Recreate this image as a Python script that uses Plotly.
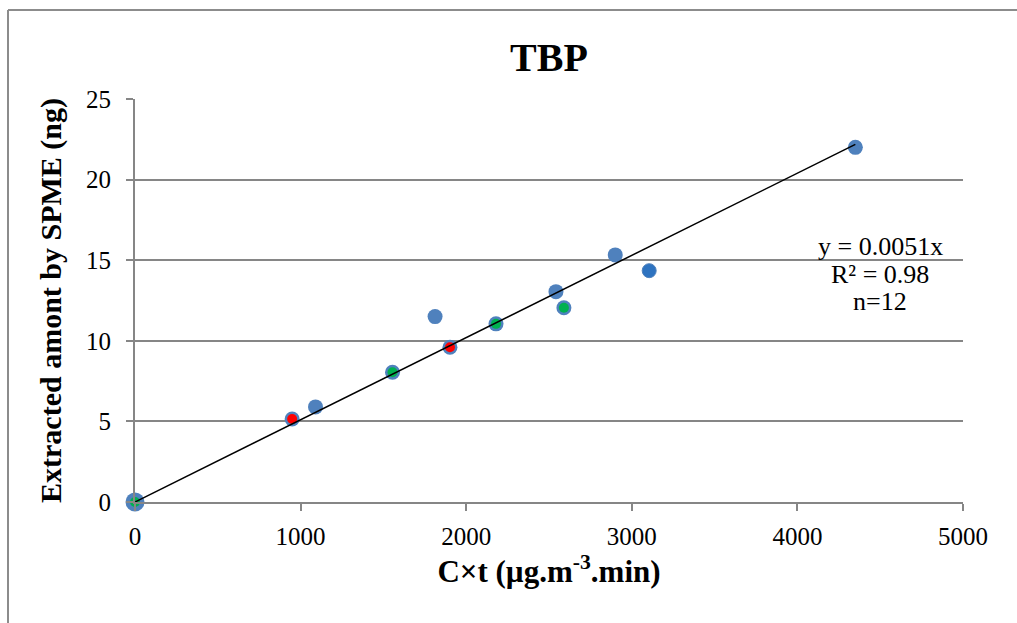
import plotly.graph_objects as go

# data
blue_x = [0, 949, 1090, 1555, 1812, 1902, 2180, 2542, 2590, 2900, 4350]
blue_y = [0, 5.15, 5.9, 8.05, 11.5, 9.6, 11.05, 13.05, 12.05, 15.33, 22.0]
dark_x = [3105]
dark_y = [14.35]
red_x = [949, 1902]
red_y = [5.15, 9.6]
green_x = [0, 1555, 2180, 2590]
green_y = [0, 8.05, 11.05, 12.05]
slope = 0.0051
trend_x = [0, 4350]
trend_y = [slope * v for v in trend_x]
x_ticks = [0, 1000, 2000, 3000, 4000, 5000]
y_ticks = [0, 5, 10, 15, 20, 25]
eq_lines = ["y = 0.0051x", "R² = 0.98", "n=12"]

FONT = "Liberation Serif"
fig = go.Figure()
fig.add_trace(go.Scatter(x=[0], y=[0], mode="markers", cliponaxis=False,
                         marker=dict(size=19, color="#4F81BD"), showlegend=False))
fig.add_trace(go.Scatter(x=blue_x, y=blue_y, mode="markers", cliponaxis=False,
                         marker=dict(size=15, color="#4F81BD"), showlegend=False))
fig.add_trace(go.Scatter(x=dark_x, y=dark_y, mode="markers", cliponaxis=False,
                         marker=dict(size=14, color="#2E73C0", line=dict(color="#4F81BD", width=1)), showlegend=False))
fig.add_trace(go.Scatter(x=red_x, y=red_y, mode="markers", cliponaxis=False,
                         marker=dict(size=10, color="#FF0000"), showlegend=False))
fig.add_trace(go.Scatter(x=green_x, y=green_y, mode="markers", cliponaxis=False,
                         marker=dict(size=10, color="#00B050"), showlegend=False))
fig.add_trace(go.Scatter(x=trend_x, y=trend_y, mode="lines", cliponaxis=False,
                         line=dict(color="black", width=1.5), showlegend=False))

W, H = 1017, 623
L, R, T, B = 135, 54, 99, 121
pw, ph = W - L - R, H - T - B

fig.update_layout(
    width=W, height=H,
    margin=dict(l=L, r=R, t=T, b=B),
    paper_bgcolor="white", plot_bgcolor="white",
    font=dict(family=FONT, size=25, color="black"),
    title=dict(text="<b>TBP</b>", x=(L + pw / 2) / W, xanchor="center",
               y=1 - 57 / H, yanchor="middle", font=dict(size=40, family=FONT)),
    xaxis=dict(range=[0, 5000], tickvals=x_ticks, showgrid=False, zeroline=False,
               showline=True, linecolor="#868686", linewidth=2,
               ticks="outside", ticklen=7, tickcolor="#868686", tickwidth=2,
               ticklabelstandoff=4,
               tickfont=dict(size=25, family=FONT),
               title=dict(text="<b>C×t (µg.m<sup>-3</sup>.min)</b>", font=dict(size=31, family=FONT), standoff=9)),
    yaxis=dict(range=[0, 25], tickvals=y_ticks, showgrid=True, gridcolor="#868686", gridwidth=2,
               zeroline=False, showline=True, linecolor="#868686", linewidth=2,
               ticks="outside", ticklen=7, tickcolor="#868686", tickwidth=2,
               ticklabelstandoff=10,
               tickfont=dict(size=25, family=FONT),
               title=dict(text="<b>Extracted amont by SPME (ng)</b>", font=dict(size=30, family=FONT), standoff=16)),
)

for txt, ypix in zip(eq_lines, [246, 274, 301]):
    fig.add_annotation(x=(880 - L) / pw, y=(H - B - ypix) / ph, xref="paper", yref="paper",
                       text=txt, showarrow=False, xanchor="center", yanchor="middle",
                       font=dict(size=26, family=FONT))

# outer chart border (top and left visible)
fig.add_shape(type="line", xref="paper", yref="paper",
              x0=(8 - L) / pw, x1=(W + 5 - L) / pw, y0=(H - B - 10) / ph, y1=(H - B - 10) / ph,
              line=dict(color="#8C8C8C", width=2))
fig.add_shape(type="line", xref="paper", yref="paper",
              x0=(8 - L) / pw, x1=(8 - L) / pw, y0=(H - B - 10) / ph, y1=(H - B - H - 5) / ph,
              line=dict(color="#8C8C8C", width=2))

fig.write_html("out.html", config={"displayModeBar": False},
               post_script="document.body.style.margin='0px';document.body.style.overflow='hidden';")
